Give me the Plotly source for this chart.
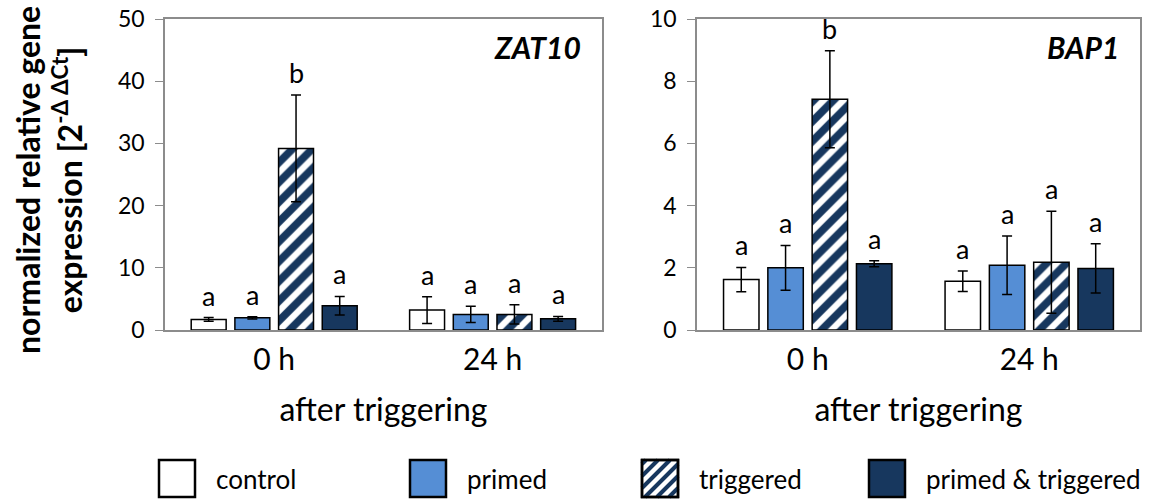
import plotly.graph_objects as go

# data
groups = ["0 h", "24 h"]
treatments = ["control", "primed", "triggered", "primed & triggered"]

zat10_mean = {
    "control": [1.7, 3.2],
    "primed": [1.95, 2.5],
    "triggered": [29.2, 2.5],
    "primed & triggered": [3.9, 1.8],
}
zat10_err = {
    "control": [0.3, 2.15],
    "primed": [0.2, 1.3],
    "triggered": [8.6, 1.55],
    "primed & triggered": [1.5, 0.38],
}
zat10_letters = {
    "control": ["a", "a"],
    "primed": ["a", "a"],
    "triggered": ["b", "a"],
    "primed & triggered": ["a", "a"],
}

bap1_mean = {
    "control": [1.62, 1.57],
    "primed": [2.0, 2.08],
    "triggered": [7.42, 2.18],
    "primed & triggered": [2.13, 1.98],
}
bap1_err = {
    "control": [0.39, 0.33],
    "primed": [0.72, 0.94],
    "triggered": [1.56, 1.64],
    "primed & triggered": [0.1, 0.79],
}
bap1_letters = {
    "control": ["a", "a"],
    "primed": ["a", "a"],
    "triggered": ["b", "a"],
    "primed & triggered": ["a", "a"],
}

navy = "#17375E"
fills = {
    "control": "white",
    "primed": "#558ED5",
    "triggered": "white",
    "primed & triggered": navy,
}
offsets = [-0.3, -0.1, 0.1, 0.3]
bar_w = 0.16
FONT = "Lato"

# figure geometry in pixels (used for the hand-made legend)
W, H = 1149, 499
ML, MR, MT, MB = 165, 9, 19, 169
PW, PH = W - ML - MR, H - MT - MB


def px_x(px):
    return (px - ML) / PW


def px_y(py):
    return (H - MB - py) / PH


fig = go.Figure()
annotations = []
shapes = []

panels = [
    ("x", "y", zat10_mean, zat10_err, zat10_letters, "ZAT10"),
    ("x2", "y2", bap1_mean, bap1_err, bap1_letters, "BAP1"),
]
for p, (xa, ya, means, errs, letters, gene) in enumerate(panels):
    for i, t in enumerate(treatments):
        xs = [g + offsets[i] for g in range(len(groups))]
        pattern = dict(shape="/", fgcolor=navy, fgopacity=1, bgcolor="white",
                       size=14, solidity=0.55) \
            if t == "triggered" else dict(shape="")
        fig.add_trace(go.Bar(
            x=xs, y=means[t], width=bar_w, xaxis=xa, yaxis=ya,
            name=t, showlegend=False,
            marker=dict(color=fills[t], line=dict(color="black", width=1.5), pattern=pattern),
            error_y=dict(type="data", array=errs[t], color="black", thickness=1.5, width=5),
        ))
        for g in range(len(groups)):
            annotations.append(dict(
                x=xs[g], y=means[t][g] + errs[t][g], xref=xa, yref=ya,
                text=letters[t][g], showarrow=False, yanchor="bottom", yshift=4,
                font=dict(family=FONT, size=27, color="black"),
            ))
    annotations.append(dict(
        x=0.957, y=0.91, xref=f"{xa} domain", yref=f"{ya} domain",
        text=f"<b><i>{gene}</i></b>", showarrow=False, xanchor="right", yanchor="middle",
        font=dict(family=FONT, size=30, color="black"),
    ))

annotations.append(dict(
    x=px_x(49), y=px_y(180), xref="paper", yref="paper", textangle=-90,
    text="<b>normalized relative gene<br>expression [2<sup>-Δ ΔCt</sup>]</b>",
    showarrow=False, xanchor="center", yanchor="middle",
    font=dict(family=FONT, size=32, color="black"),
))

# legend drawn as boxes + labels (large swatches like the original)
legend_box_x = [159, 410, 642, 869]
box_w, box_top, box_bot = 36, 460, 497
for i, t in enumerate(treatments):
    x0, x1 = legend_box_x[i], legend_box_x[i] + box_w
    shapes.append(dict(type="rect", xref="paper", yref="paper",
                       x0=px_x(x0), x1=px_x(x1), y0=px_y(box_bot), y1=px_y(box_top),
                       fillcolor=fills[t], line=dict(color="black", width=2.5)))
    if t == "triggered":
        # diagonal stripes clipped to the box
        segs = []
        for c in range(x0 + box_top + 4, x1 + box_bot, 12):
            pts = []
            for yy in (box_top, box_bot):
                xx = c - yy
                if x0 <= xx <= x1:
                    pts.append((xx, yy))
            for xx in (x0, x1):
                yy = c - xx
                if box_top < yy < box_bot:
                    pts.append((xx, yy))
            if len(pts) >= 2:
                (ax, ay), (bx, by) = pts[0], pts[1]
                segs.append(f"M{px_x(ax)},{px_y(ay)}L{px_x(bx)},{px_y(by)}")
        shapes.append(dict(type="path", xref="paper", yref="paper", path="".join(segs),
                           line=dict(color=navy, width=4)))
        shapes.append(dict(type="rect", xref="paper", yref="paper",
                           x0=px_x(x0), x1=px_x(x1), y0=px_y(box_bot), y1=px_y(box_top),
                           line=dict(color="black", width=2.5)))
    annotations.append(dict(
        x=px_x(x1 + 19), y=px_y(479), xref="paper", yref="paper", text=t,
        showarrow=False, xanchor="left", yanchor="middle",
        font=dict(family=FONT, size=26, color="black"),
    ))

axis_common = dict(showline=True, linecolor="#8c8c8c", linewidth=1.5, mirror=True,
                   showgrid=False, zeroline=False, automargin=False)
xcommon = dict(axis_common, range=[-0.5, 1.5], tickvals=[0, 1], ticktext=groups,
               ticks="", ticklabelstandoff=2,
               tickfont=dict(family=FONT, size=30, color="black"),
               title=dict(text="after triggering", font=dict(family=FONT, size=32, color="black"),
                          standoff=24))
ycommon = dict(axis_common, ticks="outside", ticklen=8, tickcolor="#8c8c8c",
               ticklabelstandoff=6,
               tickfont=dict(family=FONT, size=23, color="black"))

fig.update_layout(
    width=W, height=H,
    margin=dict(l=ML, r=MR, t=MT, b=MB),
    plot_bgcolor="white", paper_bgcolor="white",
    barmode="overlay", showlegend=False,
    font=dict(family=FONT, color="black"),
    xaxis=dict(xcommon, domain=[0, 0.448], anchor="y"),
    yaxis=dict(ycommon, range=[0, 50], dtick=10, anchor="x"),
    xaxis2=dict(xcommon, domain=[0.5456, 1], anchor="y2"),
    yaxis2=dict(ycommon, range=[0, 10], dtick=2, anchor="x2"),
    annotations=annotations,
    shapes=shapes,
)

# drop the page's default body margin so the figure sits at the window's corner
fig.write_html("out.html", config={"displayModeBar": False},
               post_script="document.body.style.margin='0';")
